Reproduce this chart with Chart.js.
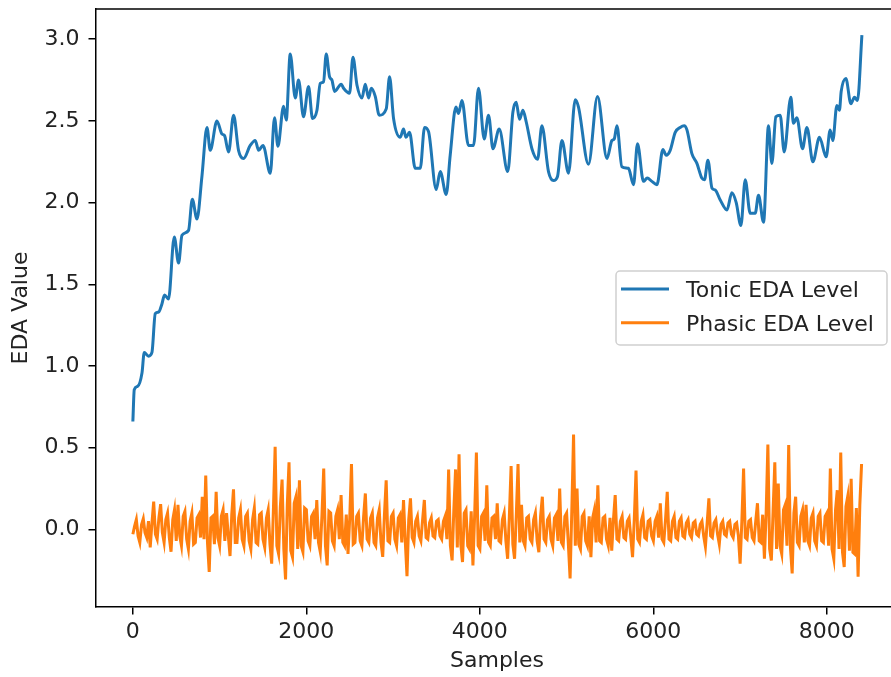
<!DOCTYPE html>
<html>
<head>
<meta charset="utf-8">
<script src="https://cdn.jsdelivr.net/npm/chart.js@4.4.1/dist/chart.umd.min.js"></script>
<style>
  html,body{margin:0;padding:0;background:#fff;overflow:hidden;}
  #wrap{position:relative;width:891px;height:677px;overflow:hidden;}
  #edaChart{position:absolute;left:0;top:0;}
</style>
</head>
<body>
<div id="wrap"><canvas id="edaChart" width="910" height="677"></canvas></div>
<script>
// EDA decomposition: tonic level and phasic level per sample
const tonicSamples = [
  0,16,54,105,131,181,220,258,296,335,365,411,477,527,566,642,685,739,796,854,
  892,969,1027,1057,1103,1161,1218,1276,1353,1411,1449,1500,1584,1633,1672,1737,1768,1814,1872,1910,
  1967,2025,2071,2122,2160,2198,2229,2267,2295,2325,2402,2429,2498,2537,2583,2641,2679,2717,2748,2794,
  2840,2921,2959,3005,3082,3120,3148,3189,3255,3313,3362,3408,3497,3543,3612,3658,3724,3754,3793,3869,
  3927,3984,4050,4100,4151,4223,4321,4381,4419,4457,4496,4534,4600,4665,4715,4791,4849,4895,4946,5022,
  5099,5137,5252,5356,5465,5522,5549,5580,5637,5713,5771,5817,5886,5929,5983,6041,6110,6148,6194,6252,
  6309,6355,6387,6444,6502,6559,6589,6629,6675,6713,6771,6848,6905,6955,7009,7059,7116,7174,7212,7270,
  7327,7366,7412,7462,7508,7585,7615,7654,7719,7770,7839,7915,7992,8038,8069,8115,8145,8165,8219,8277,
  8318,8353,8404
];
const tonicLevels = [
  0.66,0.855,0.875,0.957,1.083,1.06,1.083,1.32,1.33,1.38,1.435,1.41,1.79,1.63,1.80,1.83,2.02,1.90,2.16,2.46,
  2.32,2.50,2.42,2.41,2.31,2.535,2.32,2.27,2.35,2.38,2.32,2.35,2.18,2.52,2.345,2.59,2.505,2.91,2.64,2.75,
  2.525,2.71,2.515,2.565,2.73,2.74,2.91,2.77,2.75,2.68,2.725,2.70,2.67,2.89,2.72,2.64,2.725,2.64,2.70,2.65,
  2.535,2.575,2.77,2.515,2.40,2.45,2.40,2.43,2.21,2.21,2.46,2.435,2.08,2.19,2.05,2.29,2.585,2.545,2.625,2.35,
  2.35,2.70,2.39,2.535,2.33,2.45,2.19,2.555,2.615,2.51,2.565,2.495,2.33,2.265,2.47,2.19,2.135,2.16,2.38,2.18,
  2.63,2.585,2.235,2.65,2.27,2.38,2.39,2.47,2.22,2.21,2.11,2.36,2.13,2.15,2.13,2.11,2.325,2.29,2.32,2.43,
  2.46,2.47,2.445,2.30,2.24,2.15,2.14,2.26,2.09,2.077,2.016,1.955,2.06,2.00,1.86,2.14,1.935,1.935,2.045,1.88,
  2.47,2.24,2.525,2.535,2.31,2.645,2.485,2.52,2.33,2.46,2.25,2.40,2.28,2.445,2.38,2.595,2.565,2.68,2.76,2.605,
  2.645,2.625,3.025
];

// phasic level, one value every phasicStep samples (400 samples per row)
const phasicStep = 20;
const phasicLevels = [
  -0.03,0.02,0.06,-0.04,-0.08,0.03,0.065,-0.02,-0.05,0.05,-0.11,0.04,0.17,-0.03,-0.06,0.07,0.155,-0.02,-0.08,0.06,
  0.10,-0.05,-0.137,0.06,0.12,-0.07,0.15,-0.04,-0.10,0.08,0.11,-0.06,-0.12,0.05,0.10,-0.09,-0.08,0.07,0.09,-0.05,
  0.20,-0.06,0.33,-0.08,-0.26,0.07,0.08,-0.09,0.23,-0.05,-0.10,0.08,0.12,-0.07,0.10,-0.04,-0.163,0.09,0.245,-0.08,
  -0.08,0.07,0.12,-0.06,-0.10,0.08,0.10,-0.07,-0.12,0.06,0.13,-0.08,-0.09,0.09,0.10,-0.06,-0.11,0.07,0.12,-0.09,
  -0.21,0.12,0.506,-0.10,-0.15,0.14,0.305,-0.12,-0.306,0.15,0.41,-0.13,-0.17,0.16,0.20,-0.12,0.30,-0.10,-0.137,0.13,
  0.12,-0.07,-0.10,0.08,0.10,-0.06,0.18,-0.08,-0.137,0.09,0.373,-0.10,-0.22,0.11,0.10,-0.07,-0.10,0.08,0.12,-0.06,
  0.21,-0.08,-0.10,0.09,-0.15,0.07,0.40,-0.09,-0.08,0.08,0.10,-0.07,-0.10,0.08,0.22,-0.06,-0.08,0.07,0.10,-0.08,
  -0.10,0.07,0.12,-0.08,-0.168,0.09,0.30,-0.07,-0.08,0.08,0.10,-0.06,-0.10,0.07,0.09,-0.08,0.18,-0.07,-0.286,0.06,
  0.19,-0.05,-0.08,0.05,0.08,-0.04,-0.07,0.06,0.18,-0.05,-0.06,0.04,0.07,-0.04,-0.05,0.05,0.06,-0.04,-0.06,0.05,
  0.08,-0.06,0.367,-0.10,-0.19,0.12,0.367,-0.11,0.46,-0.09,-0.20,0.10,0.12,-0.10,-0.12,0.11,-0.22,0.09,0.47,-0.10,
  -0.12,0.08,0.10,-0.07,0.27,-0.08,-0.10,0.07,0.08,-0.06,0.16,-0.07,-0.08,0.06,0.10,-0.07,-0.18,0.08,0.388,-0.09,
  -0.18,0.09,0.40,-0.08,0.15,-0.07,-0.10,0.07,0.08,-0.06,-0.08,0.06,0.10,-0.07,-0.14,0.08,0.20,-0.06,-0.08,0.06,
  0.08,-0.06,-0.10,0.07,0.09,-0.07,0.25,-0.08,-0.10,0.08,0.10,-0.09,-0.30,0.12,0.58,-0.10,0.25,-0.09,-0.12,0.08,
  0.10,-0.07,-0.10,0.08,-0.17,0.07,0.12,-0.08,0.27,-0.07,-0.08,0.07,0.08,-0.06,-0.10,0.07,-0.13,0.06,0.21,-0.06,
  -0.07,0.05,0.08,-0.05,-0.06,0.05,0.07,-0.05,-0.17,0.06,0.36,-0.06,-0.08,0.05,0.09,-0.05,-0.06,0.05,0.06,-0.04,
  -0.07,0.05,0.08,-0.05,0.16,-0.06,-0.08,0.06,0.23,-0.06,-0.07,0.05,0.08,-0.05,-0.06,0.05,0.07,-0.04,-0.05,0.04,
  0.06,-0.03,-0.05,0.04,0.05,-0.03,-0.04,0.03,0.05,-0.04,-0.105,0.04,0.19,-0.04,-0.05,0.04,0.06,-0.03,-0.09,0.03,
  0.05,-0.03,-0.04,0.04,0.05,-0.03,-0.05,0.03,0.04,-0.04,-0.21,0.05,0.373,-0.05,-0.06,0.05,0.06,-0.05,-0.07,0.05,
  0.16,-0.07,-0.08,0.09,-0.18,0.10,0.52,-0.12,-0.19,0.11,0.41,-0.12,0.28,-0.10,-0.15,0.12,0.15,-0.10,0.516,-0.11,
  -0.27,0.10,0.20,-0.08,-0.10,0.08,0.12,-0.08,0.15,-0.07,-0.10,0.07,0.10,-0.07,-0.10,0.08,0.10,-0.07,-0.08,0.08,
  0.10,-0.10,0.373,-0.12,-0.18,0.12,0.24,-0.12,0.47,-0.14,-0.23,0.14,0.20,-0.13,0.31,-0.14,-0.15,0.13,-0.29,0.15,0.40
];

const xTicks = [0, 2000, 4000, 6000, 8000];
const yTicks = ['0.0', '0.5', '1.0', '1.5', '2.0', '2.5', '3.0'];
const seriesNames = ['Tonic EDA Level', 'Phasic EDA Level'];
const seriesColors = ['#1f77b4', '#ff7f0e'];

const FONT = 'DejaVu Sans';
const TEXT = '#222';

const tonicPoints = tonicSamples.map((s, i) => ({x: s, y: tonicLevels[i]}));
const phasicPoints = phasicLevels.map((v, i) => ({x: i * phasicStep, y: v}));

// top spine (right spine falls outside the picture) and a matplotlib-like legend at centre right
const frameLegend = {
  id: 'frameLegend',
  afterDraw(chart){
    const {ctx, chartArea: a} = chart;
    ctx.save();
    ctx.strokeStyle = '#000';
    ctx.lineWidth = 1.5;
    ctx.beginPath();
    ctx.moveTo(a.left, a.top);
    ctx.lineTo(chart.width, a.top);
    ctx.stroke();

    const w = 271, h = 74;
    const bx = a.right - 11 - w;
    const by = (a.top + a.bottom) / 2 - h / 2;
    ctx.fillStyle = 'rgba(255,255,255,0.8)';
    ctx.strokeStyle = '#d0d0d0';
    ctx.lineWidth = 1.5;
    ctx.beginPath();
    ctx.roundRect(bx, by, w, h, 4);
    ctx.fill();
    ctx.stroke();

    ctx.font = '22px "' + FONT + '"';
    ctx.textBaseline = 'alphabetic';
    ctx.textAlign = 'left';
    seriesNames.forEach((name, i) => {
      const ly = by + 18 + i * 33.7;
      ctx.strokeStyle = seriesColors[i];
      ctx.lineWidth = 3;
      ctx.beginPath();
      ctx.moveTo(bx + 5, ly);
      ctx.lineTo(bx + 53, ly);
      ctx.stroke();
      ctx.fillStyle = TEXT;
      ctx.fillText(name, bx + 70, ly + 8);
    });
    ctx.restore();
  }
};

new Chart(document.getElementById('edaChart').getContext('2d'), {
  type: 'line',
  data: {
    datasets: [
      {
        label: seriesNames[0],
        data: tonicPoints,
        borderColor: seriesColors[0],
        borderWidth: 3,
        pointRadius: 0,
        cubicInterpolationMode: 'monotone',
        fill: false
      },
      {
        label: seriesNames[1],
        data: phasicPoints,
        borderColor: seriesColors[1],
        borderWidth: 3,
        pointRadius: 0,
        tension: 0,
        fill: false
      }
    ]
  },
  options: {
    responsive: false,
    animation: false,
    devicePixelRatio: 1,
    layout: {padding: {left: 0, top: 9, right: 12, bottom: 0}},
    plugins: {legend: {display: false}, tooltip: {enabled: false}},
    scales: {
      x: {
        type: 'linear',
        min: -425,
        max: 8820,
        afterFit(scale){ scale.height = 70; scale.paddingLeft = 0; scale.paddingRight = 0; },
        afterBuildTicks(scale){ scale.ticks = xTicks.map(v => ({value: v})); },
        grid: {display: true, drawOnChartArea: false, drawTicks: true, tickLength: 7.5, color: '#000', lineWidth: 1.5},
        border: {display: true, color: '#000', width: 1.5},
        ticks: {color: TEXT, font: {family: FONT, size: 22}, padding: 5, maxRotation: 0,
          callback: v => String(v)},
        title: {display: true, text: 'Samples', color: TEXT, font: {family: FONT, size: 22},
          padding: {top: 0, bottom: 3}}
      },
      y: {
        min: -0.475,
        max: 3.185,
        afterFit(scale){ scale.width = 96; scale.paddingTop = 0; scale.paddingBottom = 0; },
        afterBuildTicks(scale){ scale.ticks = yTicks.map(t => ({value: parseFloat(t)})); },
        grid: {display: true, drawOnChartArea: false, drawTicks: true, tickLength: 7.5, color: '#000', lineWidth: 1.5},
        border: {display: true, color: '#000', width: 1.5},
        ticks: {color: TEXT, font: {family: FONT, size: 22}, padding: 9,
          callback: v => yTicks.find(t => parseFloat(t) === v) || ''},
        title: {display: true, text: 'EDA Value', color: TEXT, font: {family: FONT, size: 22},
          padding: {top: 8, bottom: 0}}
      }
    }
  },
  plugins: [frameLegend]
});
</script>
</body>
</html>
